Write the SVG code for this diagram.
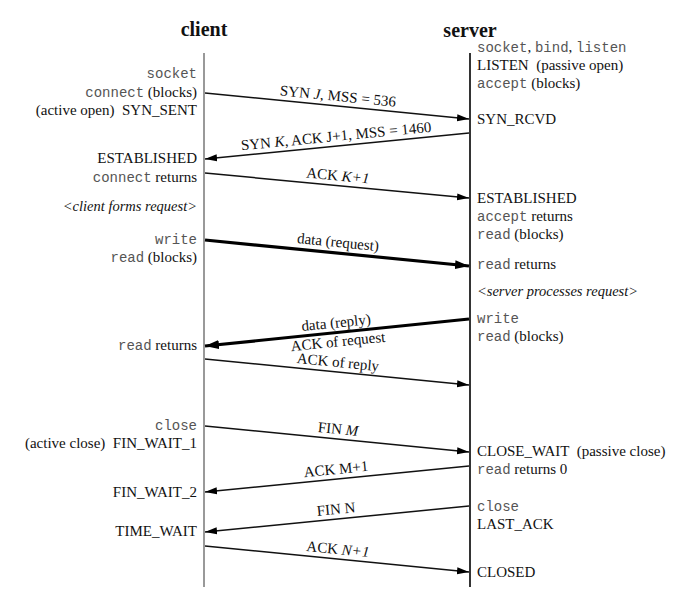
<svg xmlns="http://www.w3.org/2000/svg" width="690" height="604" viewBox="0 0 690 604">
<style>
text{font-family:"Liberation Serif","Times New Roman",serif;font-size:15px;fill:#111;white-space:pre}
.title{font-weight:bold;font-size:20px;text-anchor:middle}
.m{font-family:"Liberation Mono","Courier New",monospace;font-size:14px;fill:#555}
.it{font-style:italic}
.sm{font-size:14.5px}
.l{text-anchor:end}
.c{text-anchor:middle}
.msg{stroke:#111;stroke-width:1.5;fill:none;marker-end:url(#ah)}
.big{stroke:#000;stroke-width:3.2;fill:none;marker-end:url(#ahb)}
</style>
<defs>
<marker id="ah" markerUnits="userSpaceOnUse" markerWidth="12" markerHeight="8" refX="12" refY="4" orient="auto"><path d="M0,0.5 L12,4 L0,7.5 z" fill="#000"/></marker>
<marker id="ahb" markerUnits="userSpaceOnUse" markerWidth="14" markerHeight="10" refX="14" refY="5" orient="auto"><path d="M0,0.5 L14,5 L0,9.5 z" fill="#000"/></marker>
</defs>
<rect width="690" height="604" fill="#fff"/>

<g id="client">
<text class="title" x="204" y="36">client</text>
<line x1="204" y1="53" x2="204" y2="587" stroke="#999" stroke-width="2"/>
<text class="l" x="197" y="78"><tspan class="m">socket</tspan></text>
<text class="l" x="197" y="97"><tspan class="m">connect</tspan> (blocks)</text>
<text class="l" x="197" y="115" xml:space="preserve">(active open)  SYN_SENT</text>
<text class="l" x="197" y="163">ESTABLISHED</text>
<text class="l" x="197" y="182"><tspan class="m">connect</tspan> returns</text>
<text class="l it sm" x="197" y="211">&lt;client forms request&gt;</text>
<text class="l" x="197" y="244"><tspan class="m">write</tspan></text>
<text class="l" x="197" y="262"><tspan class="m">read</tspan> (blocks)</text>
<text class="l" x="197" y="350"><tspan class="m">read</tspan> returns</text>
<text class="l" x="197" y="430"><tspan class="m">close</tspan></text>
<text class="l" x="197" y="448" xml:space="preserve">(active close)  FIN_WAIT_1</text>
<text class="l" x="197" y="497">FIN_WAIT_2</text>
<text class="l" x="197" y="536">TIME_WAIT</text>
</g>

<g id="server">
<text class="title" x="470" y="37">server</text>
<line x1="470" y1="53" x2="470" y2="587" stroke="#000" stroke-width="1.6"/>
<text x="477" y="52"><tspan class="m">socket</tspan>, <tspan class="m">bind</tspan>, <tspan class="m">listen</tspan></text>
<text x="477" y="70" xml:space="preserve">LISTEN  (passive open)</text>
<text x="477" y="88"><tspan class="m">accept</tspan> (blocks)</text>
<text x="477" y="124">SYN_RCVD</text>
<text x="477" y="203">ESTABLISHED</text>
<text x="477" y="221"><tspan class="m">accept</tspan> returns</text>
<text x="477" y="239"><tspan class="m">read</tspan> (blocks)</text>
<text x="477" y="269"><tspan class="m">read</tspan> returns</text>
<text class="it sm" x="477" y="296">&lt;server processes request&gt;</text>
<text x="477" y="323"><tspan class="m">write</tspan></text>
<text x="477" y="341"><tspan class="m">read</tspan> (blocks)</text>
<text x="477" y="456" xml:space="preserve">CLOSE_WAIT  (passive close)</text>
<text x="477" y="474"><tspan class="m">read</tspan> returns 0</text>
<text x="477" y="511"><tspan class="m">close</tspan></text>
<text x="477" y="529">LAST_ACK</text>
<text x="477" y="577">CLOSED</text>
</g>

<g id="connectors">
<line class="msg" x1="205" y1="93" x2="469" y2="119"/>
<line class="msg" x1="469" y1="133" x2="205" y2="159"/>
<line class="msg" x1="205" y1="173" x2="469" y2="198"/>
<line class="big" x1="205" y1="240" x2="469" y2="266"/>
<line class="big" x1="469" y1="319" x2="205" y2="346"/>
<line class="msg" x1="205" y1="359" x2="469" y2="385"/>
<line class="msg" x1="205" y1="426" x2="469" y2="452"/>
<line class="msg" x1="469" y1="466" x2="205" y2="492"/>
<line class="msg" x1="469" y1="506" x2="205" y2="532"/>
<line class="msg" x1="205" y1="546" x2="469" y2="572"/>

<g transform="translate(337,106) rotate(5.58)"><text class="c" x="0" y="-5">SYN <tspan class="it">J</tspan>, MSS = 536</text></g>
<g transform="translate(337,146) rotate(-5.58)"><text class="c" x="0" y="-5">SYN <tspan class="it">K</tspan>, ACK J+1, MSS = 1460</text></g>
<g transform="translate(337,185.5) rotate(5.4)"><text class="c" x="0" y="-5">ACK <tspan class="it">K+1</tspan></text></g>
<g transform="translate(337,253) rotate(5.58)"><text class="c" x="0" y="-6">data (request)</text></g>
<g transform="translate(337,332.5) rotate(-5.7)"><text class="c" x="0" y="-5">data (reply)</text><text class="c" x="0" y="14">ACK of request</text></g>
<g transform="translate(337,372) rotate(5.58)"><text class="c" x="0" y="-5">ACK of reply</text></g>
<g transform="translate(337,439) rotate(5.58)"><text class="c" x="0" y="-5">FIN <tspan class="it">M</tspan></text></g>
<g transform="translate(337,479) rotate(-5.58)"><text class="c" x="0" y="-5">ACK M+1</text></g>
<g transform="translate(337,519) rotate(-5.58)"><text class="c" x="0" y="-5">FIN N</text></g>
<g transform="translate(337,559) rotate(5.58)"><text class="c" x="0" y="-5">ACK <tspan class="it">N+1</tspan></text></g>
</g>
</svg>
